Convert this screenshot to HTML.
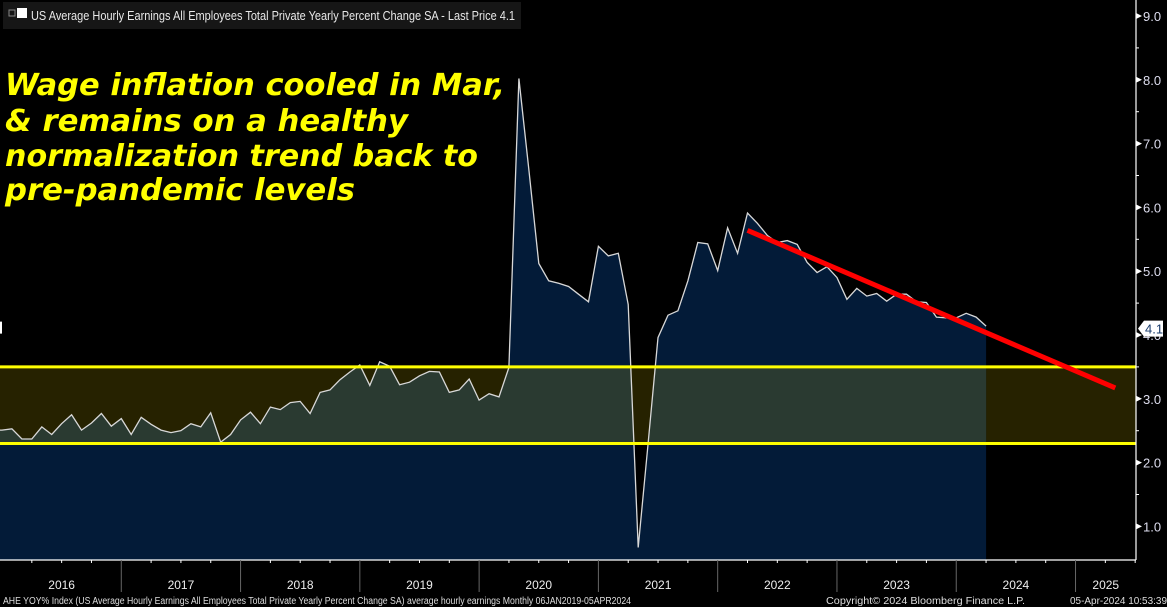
<!DOCTYPE html>
<html><head><meta charset="utf-8"><style>
html,body{margin:0;padding:0;background:#000;width:1167px;height:607px;overflow:hidden}
svg{display:block}
</style></head><body>
<svg id="chart" width="1167" height="607" xmlns="http://www.w3.org/2000/svg" font-family="Liberation Sans, sans-serif">
<rect width="1167" height="607" fill="#000"/>
<g id="plot"></g>
<g id="axes"></g>
<rect x="3" y="2" width="518" height="27" fill="#161616"/>
<rect x="9" y="10" width="6" height="6" fill="none" stroke="#888" stroke-width="1"/>
<rect x="17" y="8" width="10" height="10" fill="#fff"/>
<text x="31" y="20" fill="#e8e8e8" font-size="13" textLength="484" lengthAdjust="spacingAndGlyphs">US Average Hourly Earnings All Employees Total Private Yearly Percent Change SA - Last Price 4.1</text>
<g font-family="DejaVu Sans, sans-serif" font-weight="bold" font-style="italic" font-size="30" fill="#ffff00">
<text x="5" y="95" textLength="500" lengthAdjust="spacingAndGlyphs">Wage inflation cooled in Mar,</text>
<text x="5" y="131" textLength="403" lengthAdjust="spacingAndGlyphs">&amp; remains on a healthy</text>
<text x="5" y="166" textLength="473" lengthAdjust="spacingAndGlyphs">normalization trend back to</text>
<text x="5" y="200" textLength="350" lengthAdjust="spacingAndGlyphs">pre-pandemic levels</text>
</g>
<g font-size="10" fill="#ddd">
<text x="3" y="604" textLength="628" lengthAdjust="spacingAndGlyphs">AHE YOY% Index (US Average Hourly Earnings All Employees Total Private Yearly Percent Change SA) average hourly earnings  Monthly 06JAN2019-05APR2024</text>
<text x="826" y="604" textLength="199" lengthAdjust="spacingAndGlyphs">Copyright© 2024 Bloomberg Finance L.P.</text>
<text x="1070" y="604" textLength="97" lengthAdjust="spacingAndGlyphs">05-Apr-2024 10:53:39</text>
</g>
</svg>
<script>
// monthly values, Dec 2015 .. Mar 2024
const values = [2.51,2.53,2.37,2.37,2.56,2.44,2.61,2.75,2.51,2.62,2.77,2.57,2.69,2.44,2.71,2.60,2.51,2.47,2.50,2.61,2.56,2.78,2.32,2.44,2.67,2.79,2.61,2.87,2.83,2.94,2.96,2.77,3.10,3.14,3.30,3.42,3.53,3.21,3.58,3.51,3.22,3.26,3.36,3.43,3.42,3.10,3.14,3.31,2.98,3.08,3.03,3.49,
8.02,6.6,5.12,4.85,4.81,4.76,4.64,4.52,5.39,5.24,5.28,4.48,0.67,2.3,3.96,4.31,4.38,4.85,5.45,5.43,5.01,5.68,5.28,5.91,5.75,5.56,5.45,5.48,5.42,5.14,4.98,5.07,4.90,4.56,4.73,4.61,4.65,4.53,4.64,4.64,4.52,4.51,4.28,4.27,4.27,4.34,4.28,4.14];
const yTicks = [1,2,3,4,5,6,7,8,9];
const yearLabels = ['2016','2017','2018','2019','2020','2021','2022','2023','2024','2025'];
const bandRange = [2.3, 3.5];
const trendStart = [75, 5.64]; // [month index, value]
const trendEnd = [112, 3.17];
const lastValue = 4.1;

const NS = 'http://www.w3.org/2000/svg';
const X0 = 2, DX = 9.94, AXISX = 1136, PLOTB = 560;
function xs(i){ return X0 + i*DX; }
function ys(v){ return 16 + (9 - v)*63.8; }
function mk(tag, attrs, parent){ const e = document.createElementNS(NS, tag); for (const k in attrs) e.setAttribute(k, attrs[k]); parent.appendChild(e); return e; }
const plot = document.getElementById('plot');
const axes = document.getElementById('axes');

const band = mk('rect', {x:0, y:ys(bandRange[1]), width:AXISX, height:ys(bandRange[0])-ys(bandRange[1]), fill:'#262200'}, plot);



let pts = values.map((v,i)=>xs(i).toFixed(1)+','+ys(v).toFixed(1));
let d = 'M0,'+PLOTB+' L0,'+ys(values[0]).toFixed(1)+' L'+pts.join(' L')+' L'+xs(values.length-1).toFixed(1)+','+PLOTB+' Z';
const area = mk('path', {d:d, fill:'#031b38'}, plot);


const clip = mk('clipPath', {id:'bandclip'}, plot);
mk('rect', {x:0, y:ys(bandRange[1]), width:AXISX, height:ys(bandRange[0])-ys(bandRange[1])}, clip);
const ov = mk('path', {d:d, fill:'#2a3a31', 'clip-path':'url(#bandclip)'}, plot);


const line = mk('polyline', {points:'0,'+ys(values[0]).toFixed(1)+' '+pts.join(' '), fill:'none', stroke:'#d8d8d8', 'stroke-width':1.3}, plot);



bandRange.forEach((b,k)=>{
  const l = mk('line', {x1:0, x2:AXISX, y1:ys(b), y2:ys(b), stroke:'#ffff00', 'stroke-width':3}, plot);
  
  
});

const tr = mk('line', {x1:xs(trendStart[0]), y1:ys(trendStart[1]), x2:xs(trendEnd[0]), y2:ys(trendEnd[1]), stroke:'#ff0000', 'stroke-width':5, 'stroke-linecap':'butt'}, plot);



const ya = mk('line', {x1:AXISX, x2:AXISX, y1:0, y2:PLOTB, stroke:'#fff', 'stroke-width':1.2}, axes);


yTicks.forEach(v=>{
  const y = ys(v);
  const t = mk('path', {d:'M'+AXISX+','+(y-3)+' L'+(AXISX+6)+','+y+' L'+AXISX+','+(y+3)+' Z', fill:'#fff'}, axes);
  
  
  const m = mk('line', {x1:AXISX, x2:AXISX+3, y1:ys(v+0.5), y2:ys(v+0.5), stroke:'#fff'}, axes);
  
  
  const tx = mk('text', {x:AXISX+7, y:y+5, fill:'#dde', 'font-size':13}, axes);
  tx.textContent = v.toFixed(1);
  
  
});
const ly = ys(lastValue);
const tag = mk('path', {d:'M'+(AXISX+2)+','+ly+' L'+(AXISX+8)+','+(ly-8)+' L1163,'+(ly-8)+' L1163,'+(ly+8)+' L'+(AXISX+8)+','+(ly+8)+' Z', fill:'#fff'}, axes);


const tt = mk('text', {x:AXISX+9, y:ly+5, fill:'#1a3c6e', 'font-size':13}, axes);
tt.textContent = lastValue.toFixed(1);


const lm = mk('rect', {x:0, y:ly-7, width:2, height:12, fill:'#fff'}, axes);



const xa = mk('line', {x1:0, x2:AXISX, y1:PLOTB, y2:PLOTB, stroke:'#fff', 'stroke-width':1.2}, axes);


for (let q=1; q<4*10; q++){
  const x = xs(q*3);
  if (x > AXISX) break;
  if (q%4===0){
    const s = mk('line', {x1:x, x2:x, y1:PLOTB, y2:592, stroke:'#666', 'stroke-width':1}, axes);
    
    
  } else {
    const s = mk('line', {x1:x, x2:x, y1:PLOTB, y2:PLOTB+3, stroke:'#fff'}, axes);
    
    
  }
}
yearLabels.forEach((lab,k)=>{
  let x = xs(k*12 + 6);
  if (x > AXISX-20) x = (xs(k*12) + AXISX)/2;
  const t = mk('text', {x:x, y:589, fill:'#eee', 'font-size':12, 'text-anchor':'middle'}, axes);
  t.textContent = lab;
  
  
});
</script>
</body></html>
